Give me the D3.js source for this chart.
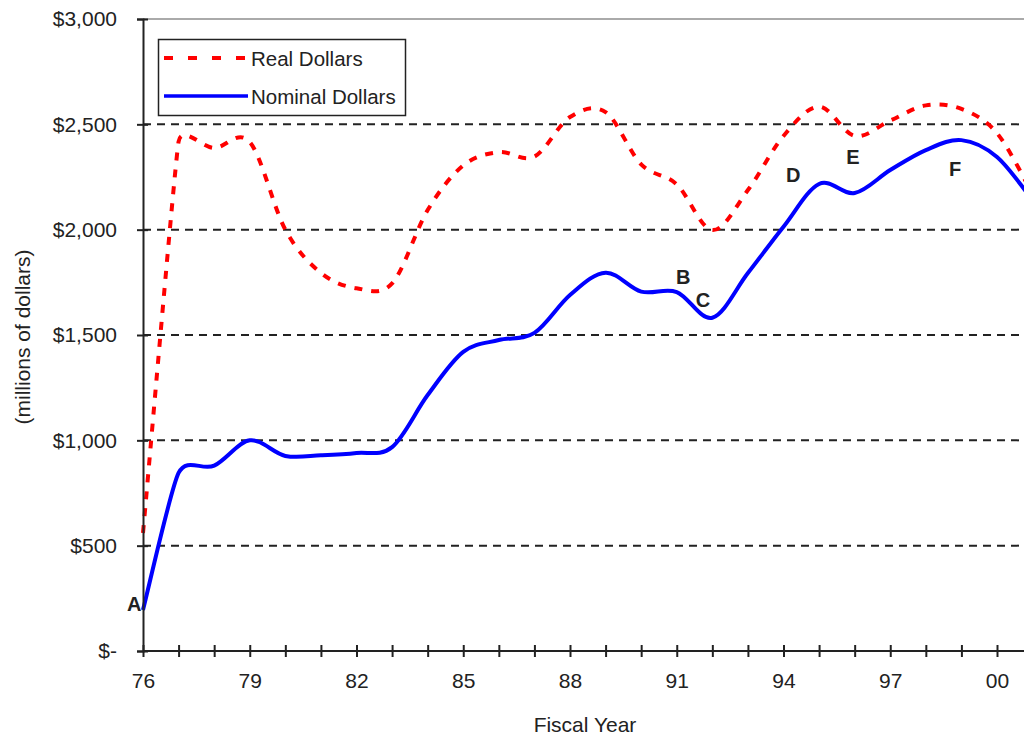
<!DOCTYPE html>
<html>
<head>
<meta charset="utf-8">
<script src="https://cdn.jsdelivr.net/npm/d3@7"></script>
<style>
  html, body { margin: 0; padding: 0; background: #fff; overflow: hidden; }
  text { font-family: "Liberation Sans", Arial, sans-serif; fill: #222; }
</style>
</head>
<body>
<div id="chart"></div>
<script>
// fiscal years (two-digit, 100 = 2000)
const years = [76, 77, 78, 79, 80, 81, 82, 83, 84, 85, 86, 87, 88,
  89, 90, 91, 92, 93, 94, 95, 96, 97, 98, 99, 100, 101];

const realDollars = [560, 2418, 2388, 2416, 2000, 1795, 1722, 1745, 2093, 2305, 2368, 2347, 2535,
  2558, 2310, 2215, 1998, 2188, 2445, 2584, 2445, 2518, 2590, 2573, 2458, 2170];

const nominalDollars = [195, 845, 880, 1000, 926, 929, 940, 968, 1215, 1420, 1476, 1510, 1690,
  1796, 1706, 1704, 1582, 1794, 2014, 2217, 2174, 2283, 2378, 2425, 2345, 2140];

const yTicks = [0, 500, 1000, 1500, 2000, 2500, 3000];
const xLabelYears = [76, 79, 82, 85, 88, 91, 94, 97, 100];

// letter notes, placed in data units
const notes = [
  { label: "A", year: 75.75, value: 223 },
  { label: "B", year: 91.18, value: 1775 },
  { label: "C", year: 91.74, value: 1666 },
  { label: "D", year: 94.27, value: 2260 },
  { label: "E", year: 95.95, value: 2345 },
  { label: "F", year: 98.82, value: 2288 }
];

const width = 1024, height = 738;
const plotLeft = 143, plotTop = 19, plotBottom = 651, xEnd = 997;

const svg = d3.select("#chart").append("svg")
  .attr("width", width).attr("height", height);

const x = d3.scaleLinear().domain([76, 100]).range([plotLeft, xEnd]);
const y = d3.scaleLinear().domain([0, 3000]).range([plotBottom, plotTop]);

// spreadsheet-style smoothed line: bezier with handles capped at half the shorter neighbour segment
function smoothPath(values) {
  const pts = values.map((v, i) => [x(years[i]), y(v)]);
  const dist = (a, b) => Math.hypot(b[0] - a[0], b[1] - a[1]);
  const n = pts.length;
  const tan = pts.map((p, i) => {
    if (i === 0) return [(pts[1][0] - p[0]) / 6, (pts[1][1] - p[1]) / 6];
    if (i === n - 1) return [(p[0] - pts[i - 1][0]) / 6, (p[1] - pts[i - 1][1]) / 6];
    const a = pts[i - 1], b = pts[i + 1];
    const d02 = dist(a, b);
    const len = Math.min(d02 / 6, dist(a, p) / 2, dist(p, b) / 2);
    return [(b[0] - a[0]) / d02 * len, (b[1] - a[1]) / d02 * len];
  });
  const path = d3.path();
  path.moveTo(pts[0][0], pts[0][1]);
  for (let i = 0; i < n - 1; i++) {
    path.bezierCurveTo(
      pts[i][0] + tan[i][0], pts[i][1] + tan[i][1],
      pts[i + 1][0] - tan[i + 1][0], pts[i + 1][1] - tan[i + 1][1],
      pts[i + 1][0], pts[i + 1][1]);
  }
  return path.toString();
}

// grid lines
svg.append("g").selectAll("line")
  .data(yTicks.filter(d => d > 0 && d < 3000))
  .join("line")
  .attr("x1", plotLeft).attr("x2", width)
  .attr("y1", d => y(d)).attr("y2", d => y(d))
  .attr("stroke", "#222").attr("stroke-width", 2)
  .attr("stroke-dasharray", "8,6");

// top frame line
svg.append("line")
  .attr("x1", plotLeft).attr("x2", width)
  .attr("y1", y(3000)).attr("y2", y(3000))
  .attr("stroke", "#aaa").attr("stroke-width", 2);

// lines
svg.append("path")
  .attr("d", smoothPath(realDollars))
  .attr("fill", "none")
  .attr("stroke", "#ff0000").attr("stroke-width", 4)
  .attr("stroke-dasharray", "8,9");

svg.append("path")
  .attr("d", smoothPath(nominalDollars))
  .attr("fill", "none")
  .attr("stroke", "#0000ff").attr("stroke-width", 4)
  .attr("stroke-linejoin", "round");

// y axis
const fmt = d => d === 0 ? "$-" : "$" + d3.format(",")(d);
const yAxis = svg.append("g")
  .attr("transform", `translate(${plotLeft},0)`)
  .call(d3.axisLeft(y).tickValues(yTicks).tickFormat(fmt).tickSize(6).tickPadding(20));
yAxis.select(".domain").attr("stroke", "#222").attr("stroke-width", 2);
yAxis.selectAll(".tick line").attr("x1", 5).attr("x2", -6).attr("stroke", "#222").attr("stroke-width", 2);
yAxis.selectAll(".tick text")
  .attr("x", -26)
  .style("font-size", "21px").style("font-family", "'Liberation Sans', Arial, sans-serif")
  .attr("fill", "#222");

// x axis
const xAxis = svg.append("g")
  .attr("transform", `translate(0,${plotBottom})`)
  .call(d3.axisBottom(x)
    .tickValues(d3.range(76, 102))
    .tickFormat(d => xLabelYears.includes(d) ? d3.format("02")(d % 100) : "")
    .tickSize(6).tickPadding(16));
xAxis.select(".domain").attr("d", `M${plotLeft},0H${width + 20}`).attr("stroke", "#222").attr("stroke-width", 2);
xAxis.selectAll(".tick line").attr("y1", -6).attr("y2", 6).attr("stroke", "#222").attr("stroke-width", 2);
xAxis.selectAll(".tick text")
  .style("font-size", "21px").style("font-family", "'Liberation Sans', Arial, sans-serif")
  .attr("fill", "#222");

// axis titles
svg.append("text")
  .attr("x", 585).attr("y", 732)
  .attr("text-anchor", "middle")
  .style("font-size", "21px")
  .text("Fiscal Year");

svg.append("text")
  .attr("transform", "translate(22,337) rotate(-90)")
  .attr("text-anchor", "middle")
  .attr("dominant-baseline", "central")
  .style("font-size", "21px")
  .text("(millions of dollars)");

// letter notes
svg.append("g").selectAll("text")
  .data(notes)
  .join("text")
  .attr("x", d => x(d.year)).attr("y", d => y(d.value))
  .attr("text-anchor", "middle")
  .attr("dominant-baseline", "central")
  .style("font-size", "20px").style("font-weight", "bold")
  .attr("fill", "#111")
  .text(d => d.label);

// legend
const legend = svg.append("g");
legend.append("rect")
  .attr("x", 158.5).attr("y", 39.5).attr("width", 247).attr("height", 76)
  .attr("fill", "#fff").attr("stroke", "#222").attr("stroke-width", 1.5);
legend.append("line")
  .attr("x1", 164).attr("x2", 246).attr("y1", 58).attr("y2", 58)
  .attr("stroke", "#ff0000").attr("stroke-width", 4).attr("stroke-dasharray", "9,15");
legend.append("text")
  .attr("x", 251).attr("y", 58).attr("dominant-baseline", "central")
  .style("font-size", "20.5px").text("Real Dollars");
legend.append("line")
  .attr("x1", 164).attr("x2", 248).attr("y1", 96).attr("y2", 96)
  .attr("stroke", "#0000ff").attr("stroke-width", 3.5);
legend.append("text")
  .attr("x", 251).attr("y", 96).attr("dominant-baseline", "central")
  .style("font-size", "20.5px").text("Nominal Dollars");
</script>
</body>
</html>
